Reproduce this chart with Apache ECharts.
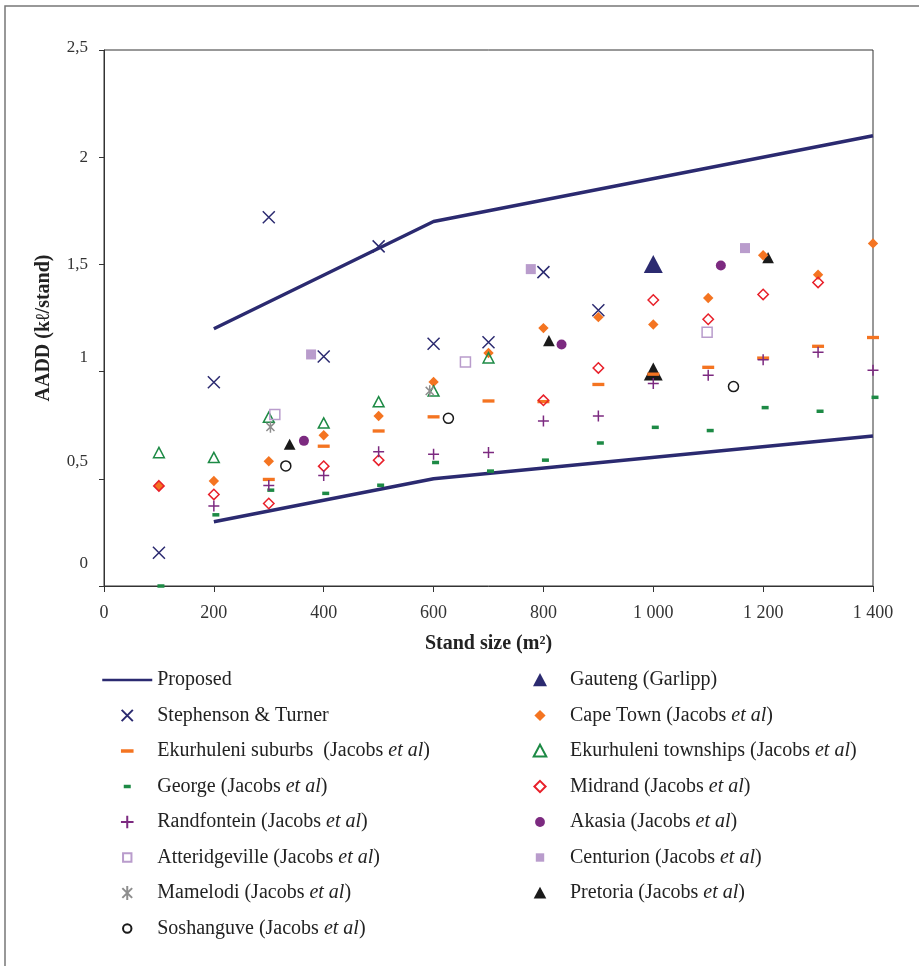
<!DOCTYPE html>
<html>
<head>
<meta charset="utf-8">
<script src="https://cdn.jsdelivr.net/npm/echarts@6/dist/echarts.min.js"></script>
<style>html,body{margin:0;padding:0;background:#fff;}#c{width:919px;height:966px;}</style>
</head>
<body>
<div id="c"></div>
<script>
// ---- tick labels ----
const xTickLabels = ['0', '200', '400', '600', '800', '1 000', '1 200', '1 400'];
const yTickLabels = ['0', '0,5', '1', '1,5', '2', '2,5'];

// ---- data (stand size m², AADD kl/stand) ----
const proposedUpper = [[200, 1.2], [600, 1.7], [1400, 2.1]];
const proposedLower = [[200, 0.3], [600, 0.5], [1400, 0.7]];
const stephensonTurner = [[100, 0.155], [200, 0.95], [300, 1.72], [400, 1.07], [500, 1.584], [600, 1.13], [700, 1.137], [800, 1.464], [900, 1.286]];
const gautengGarlipp = [[1000, 1.5]];
const capeTown = [[100, 0.467], [200, 0.49], [300, 0.582], [400, 0.703], [500, 0.793], [600, 0.952], [700, 1.087], [800, 1.203], [900, 1.254], [1000, 1.22], [1100, 1.343], [1200, 1.543], [1300, 1.452], [1400, 1.598]];
const ekurhuleniSuburbs = [[300, 0.497], [400, 0.652], [500, 0.723], [600, 0.789], [700, 0.863], [800, 0.86], [900, 0.94], [1000, 0.988], [1100, 1.02], [1200, 1.063], [1300, 1.118], [1400, 1.159]];
const ekurhuleniTownships = [[100, 0.621], [200, 0.598], [300, 0.786], [400, 0.759], [500, 0.858], [600, 0.908], [700, 1.063]];
const george = [[100, 0.0], [200, 0.332], [300, 0.447], [400, 0.432], [500, 0.47], [600, 0.576], [700, 0.536], [800, 0.587], [900, 0.667], [1000, 0.74], [1100, 0.725], [1200, 0.832], [1300, 0.815], [1400, 0.88]];
const midrand = [[100, 0.467], [200, 0.427], [300, 0.385], [400, 0.559], [500, 0.587], [800, 0.866], [900, 1.017], [1000, 1.334], [1100, 1.244], [1200, 1.36], [1300, 1.416]];
const randfontein = [[200, 0.373], [300, 0.469], [400, 0.515], [500, 0.626], [600, 0.615], [700, 0.623], [800, 0.77], [900, 0.793], [1000, 0.944], [1100, 0.983], [1200, 1.055], [1300, 1.09], [1400, 1.006]];
const akasia = [[364, 0.677], [833, 1.126], [1123, 1.495]];
const atteridgeville = [[311, 0.80], [658, 1.045], [1098, 1.183]];
const centurion = [[377, 1.08], [777, 1.478], [1167, 1.576]];
const mamelodi = [[303, 0.742], [593, 0.91]];
const pretoria = [[338, 0.66], [810, 1.143], [1000, 0.998], [1209, 1.53]];
const soshanguve = [[331, 0.56], [627, 0.782], [1146, 0.93]];

// ---- symbol shapes (20x20 frame) ----
const F = 'M0,0M20,20';
const SYM = {
  cross: 'path://' + F + 'M2,2L18,18M18,2L2,18',
  plus: 'path://' + F + 'M10,1L10,19M1,10L19,10',
  star: 'path://' + F + 'M3,3L17,17M17,3L3,17M10,0L10,20',
  dashLong: 'path://' + F + 'M1,7.5h18v5h-18z',
  dashShort: 'path://' + F + 'M5,7.5h10v5h-10z',
  tri: 'path://' + F + 'M10,1L19,18L1,18Z',
  triBig: 'path://' + F + 'M10,0L20,19L0,19Z',
  diamond: 'path://' + F + 'M10,2L18,10L10,18L2,10Z',
  circleS: 'path://' + F + 'M16,10A6,6,0,1,1,4,10A6,6,0,1,1,16,10Z',
  circleL: 'path://' + F + 'M17,10A7,7,0,1,1,3,10A7,7,0,1,1,17,10Z',
  square: 'path://' + F + 'M4,4h12v12h-12z'
};

const NAVY = '#2b2a70', ORANGE = '#f47421', GREEN = '#1d8a45', RED = '#e8202a',
      PURPLE = '#7c2a80', LILAC = '#b99ccc', GRAY = '#8e8e8e', BLACK = '#1a1a1a';
const NONE = 'rgba(0,0,0,0)';
const FONT = 'Liberation Serif';

function scatter(name, data, symbol, size, fill, stroke, extra) {
  return Object.assign({
    type: 'scatter', name: name, data: data, symbol: symbol, symbolSize: size,
    itemStyle: { color: fill, borderColor: stroke || fill, borderWidth: stroke ? 1.5 : 0, opacity: 1 },
    emphasis: { disabled: true }, silent: true
  }, extra || {});
}

const lineStyleP = { color: NAVY, width: 3.5 };
const series = [
  { type: 'line', name: 'Proposed', data: proposedUpper, symbol: 'none', lineStyle: lineStyleP, itemStyle: { color: NAVY }, silent: true, z: 1 },
  { type: 'line', name: 'Proposed', data: proposedLower, symbol: 'none', lineStyle: lineStyleP, itemStyle: { color: NAVY }, silent: true, z: 1 },
  scatter('Gauteng (Garlipp)', gautengGarlipp, SYM.triBig, 19, NAVY),
  scatter('Pretoria (Jacobs et al)', pretoria.map(p => p[0] === 1000 ? { value: p, symbolSize: 21 } : p), SYM.tri, 13, BLACK),
  scatter('Stephenson & Turner', stephensonTurner, SYM.cross, 15, NONE, NAVY),
  scatter('Cape Town (Jacobs et al)', capeTown, SYM.diamond, 13, ORANGE),
  scatter('Ekurhuleni suburbs  (Jacobs et al)', ekurhuleniSuburbs, SYM.dashLong, 13.3, ORANGE),
  scatter('Ekurhuleni townships (Jacobs et al)', ekurhuleniTownships, SYM.tri, 12, NONE, GREEN),
  scatter('George (Jacobs et al)', george, SYM.dashShort, 14, GREEN, null, { symbolOffset: [2, 0] }),
  scatter('Midrand (Jacobs et al)', midrand, SYM.diamond, 13, NONE, RED),
  scatter('Randfontein (Jacobs et al)', randfontein, SYM.plus, 12.2, NONE, PURPLE),
  scatter('Akasia (Jacobs et al)', akasia, SYM.circleL, 14.3, PURPLE),
  scatter('Atteridgeville (Jacobs et al)', atteridgeville, SYM.square, 16.7, NONE, LILAC),
  scatter('Centurion (Jacobs et al)', centurion, SYM.square, 16.7, LILAC),
  scatter('Mamelodi (Jacobs et al)', mamelodi, SYM.star, 11.5, NONE, GRAY),
  scatter('Soshanguve (Jacobs et al)', soshanguve, SYM.circleS, 16.7, NONE, BLACK)
];

const leftLegend = [
  { name: 'Proposed', itemStyle: { color: NONE, borderColor: NONE, borderWidth: 0, opacity: 0 }, lineStyle: { width: 2.5 } },
  'Stephenson & Turner', 'Ekurhuleni suburbs  (Jacobs et al)', 'George (Jacobs et al)', 'Randfontein (Jacobs et al)', 'Atteridgeville (Jacobs et al)', 'Mamelodi (Jacobs et al)', 'Soshanguve (Jacobs et al)'];
const rightLegend = ['Gauteng (Garlipp)', 'Cape Town (Jacobs et al)', 'Ekurhuleni townships (Jacobs et al)', 'Midrand (Jacobs et al)', 'Akasia (Jacobs et al)', 'Centurion (Jacobs et al)', 'Pretoria (Jacobs et al)'];

const LFS = 20;
const legendText = {
  fontFamily: FONT, fontSize: LFS, color: '#222', lineHeight: 20,
  rich: { i: { fontFamily: FONT, fontSize: LFS, fontStyle: 'italic', color: '#222', lineHeight: 20 } }
};
const legendFmt = n => n.replace('et al', '{i|et al}');
function legend(left, data) {
  return {
    orient: 'vertical', left: left, top: 670, itemWidth: 50, itemHeight: 14, itemGap: 15.5,
    selectedMode: false, data: data, textStyle: legendText, formatter: legendFmt,
    padding: 0
  };
}

// y label vertical drift of the original figure
const yShift = [22, 17, 14, 0, 0, 2];
const yRich = {};
yShift.forEach((s, i) => { yRich['y' + i] = { fontFamily: FONT, fontSize: 17, color: '#333', padding: [0, 0, 2 * s, 0] }; });

const option = {
  animation: false,
  backgroundColor: '#fff',
  textStyle: { fontFamily: FONT },
  grid: { left: 104, right: 46, top: 50, bottom: 380, show: true, borderColor: '#333', borderWidth: 1, outerBoundsMode: 'none' },
  xAxis: {
    type: 'value', min: 0, max: 1400, interval: 200,
    name: 'Stand size (m²)', nameLocation: 'middle', nameGap: 48,
    nameTextStyle: { fontFamily: FONT, fontSize: 20, fontWeight: 'bold', color: '#222' },
    axisLine: { show: true, onZero: false, lineStyle: { color: '#333', width: 1 } },
    axisTick: { show: true, length: 6, lineStyle: { color: '#333' } },
    axisLabel: { fontFamily: FONT, fontSize: 18, color: '#333', margin: 18, formatter: v => xTickLabels[Math.round(v / 200)] },
    splitLine: { show: false }
  },
  yAxis: {
    type: 'value', min: 0, max: 2.5, interval: 0.5,
    name: 'AADD (kℓ/stand)', nameLocation: 'middle', nameGap: 50, nameRotate: 90,
    nameTextStyle: { fontFamily: FONT, fontSize: 20, fontWeight: 'bold', color: '#222', padding: [0, 20, 0, 0] },
    axisLine: { show: true, onZero: false, lineStyle: { color: '#333', width: 1 } },
    axisTick: { show: true, length: 5, lineStyle: { color: '#333' } },
    axisLabel: {
      margin: 16, color: '#333', fontFamily: FONT, fontSize: 18,
      formatter: v => { const i = Math.round(v / 0.5); return '{y' + i + '|' + yTickLabels[i] + '}'; },
      rich: yRich
    },
    splitLine: { show: false }
  },
  legend: [legend(101, leftLegend), legend(532, rightLegend)],
  graphic: [{ type: 'rect', shape: { x: 5, y: 6, width: 1000, height: 1000 }, style: { fill: 'none', stroke: '#777', lineWidth: 1.5 }, silent: true, z: -10 }],
  series: series
};

const chart = echarts.init(document.getElementById('c'), null, { renderer: 'canvas' });
chart.setOption(option);
</script>
</body>
</html>
